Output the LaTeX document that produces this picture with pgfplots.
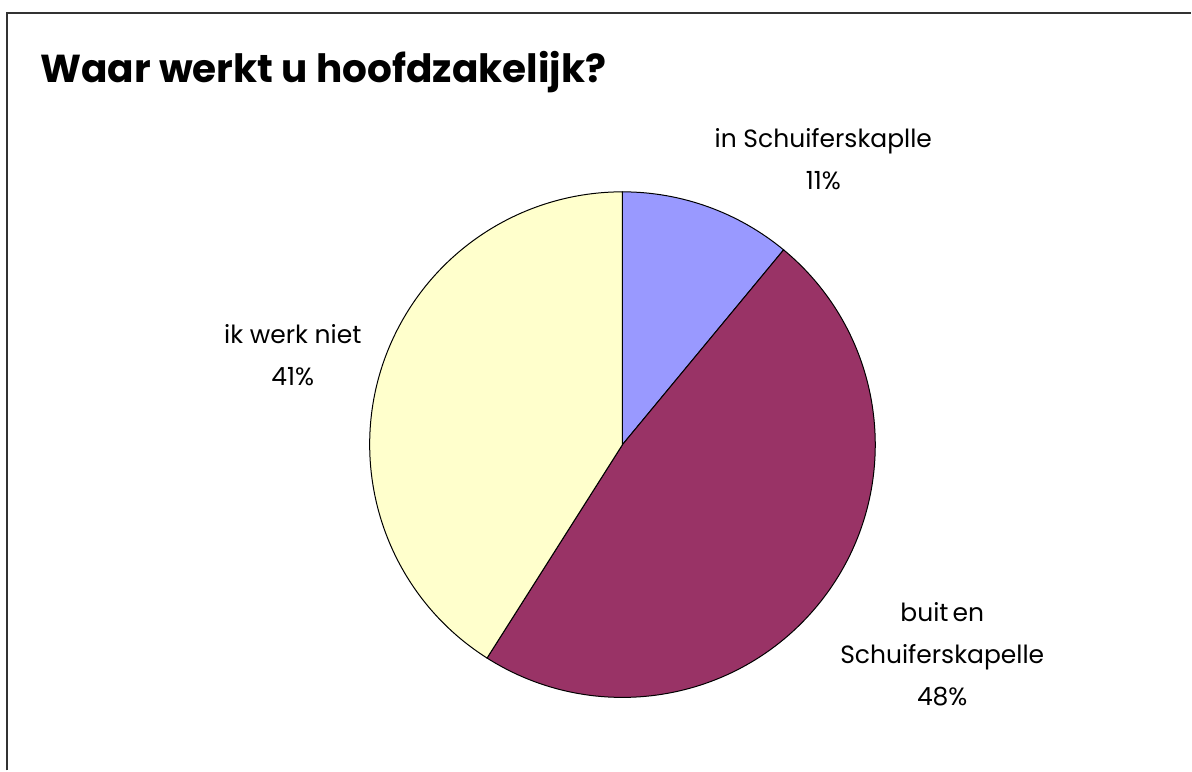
\documentclass[border=0pt]{standalone}
\usepackage{pgfplots}
\usepackage{pgfplotstable}
\pgfplotsset{compat=1.18}
\usepackage{fontspec}
\setmainfont{Poppins}
\definecolor{cBlue}{HTML}{9999FF}
\definecolor{cMaroon}{HTML}{993366}
\definecolor{cYellow}{HTML}{FFFFCC}
\pgfplotstableread{
share
11
48
41
}\piedata
\begin{document}
\begin{tikzpicture}
\pgfplotstablegetelem{0}{share}\of\piedata \let\sA\pgfplotsretval
\pgfplotstablegetelem{1}{share}\of\piedata \let\sB\pgfplotsretval
\pgfplotstablegetelem{2}{share}\of\piedata \let\sC\pgfplotsretval
\pgfmathsetmacro{\aA}{90}
\pgfmathsetmacro{\aB}{90-3.6*\sA}
\pgfmathsetmacro{\aC}{\aB-3.6*\sB}
\pgfmathsetmacro{\aD}{\aC-3.6*\sC}
\def\R{126.5pt}
\begin{axis}[
  width=596pt, height=385.5pt, scale only axis,
  xmin=0, xmax=1192, ymin=0, ymax=771,
  hide axis, clip=false,
]
\path (axis cs:0,0) rectangle (axis cs:1192,771);
% frame
\draw[black!80, line width=1pt] (axis cs:7.5,0) -- (axis cs:7.5,758) -- (axis cs:1192,758);
% slices
\filldraw[fill=cBlue, draw=black, line width=0.5pt] (axis cs:623,326) -- ++(\aA:\R) arc[start angle=\aA, end angle=\aB, radius=\R] -- cycle;
\filldraw[fill=cMaroon, draw=black, line width=0.5pt] (axis cs:623,326) -- ++(\aB:\R) arc[start angle=\aB, end angle=\aC, radius=\R] -- cycle;
\filldraw[fill=cYellow, draw=black, line width=0.5pt] (axis cs:623,326) -- ++(\aC:\R) arc[start angle=\aC, end angle=\aD, radius=\R] -- cycle;
% title
\node[anchor=base west, inner sep=0pt, font={\fontsize{19.5}{23}\selectfont\bfseries}] at (axis cs:40,688) {Waar werkt u hoofdzakelijk?};
% labels
\node[align=center, inner sep=0pt, font={\fontsize{12.5}{21}\selectfont}] at (axis cs:824,612) {in Schuiferskaplle\\ \sA\%};
\node[align=center, inner sep=0pt, font={\fontsize{12.5}{21}\selectfont}] at (axis cs:293,416) {ik werk niet\\ \sC\%};
\node[align=center, inner sep=0pt, font={\fontsize{12.5}{21}\selectfont}] at (axis cs:943,116) {buit\kern2pt en\\ Schuiferskapelle\\ \sB\%};
\end{axis}
\end{tikzpicture}
\end{document}
